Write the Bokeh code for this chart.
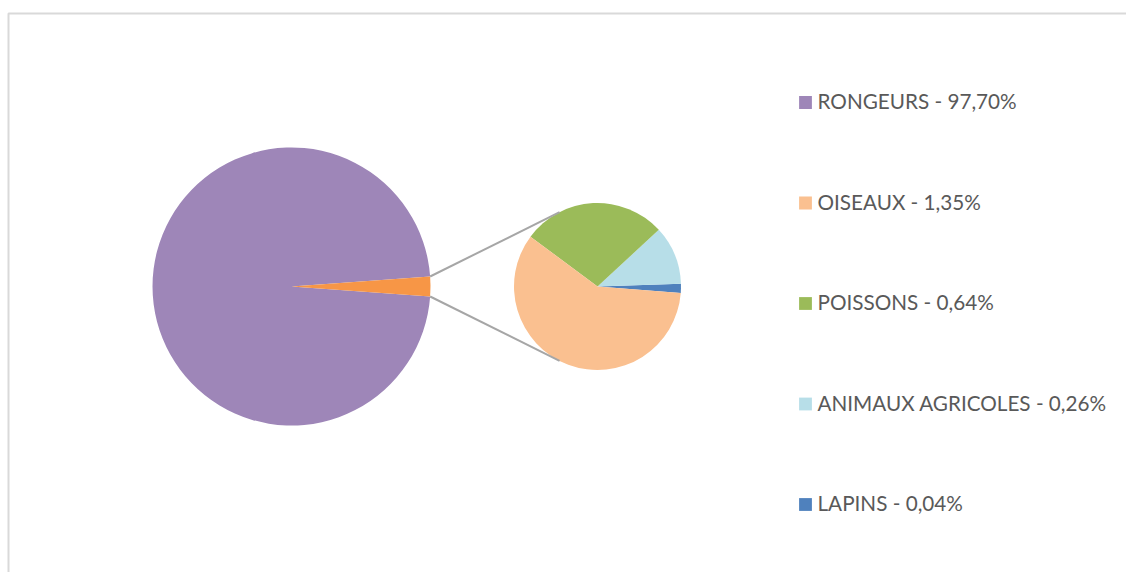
import math
from bokeh.plotting import figure
from bokeh.models import Range1d, ColumnDataSource
from bokeh.core.properties import value
from bokeh.embed import file_html
from bokeh.resources import INLINE

# ---- data ----
main_label = "RONGEURS"
main_value = 97.70
sub_labels = ["LAPINS", "ANIMAUX AGRICOLES", "POISSONS", "OISEAUX"]
sub_values = [0.04, 0.26, 0.64, 1.35]
legend_labels = ["RONGEURS - 97,70%", "OISEAUX - 1,35%", "POISSONS - 0,64%",
                 "ANIMAUX AGRICOLES - 0,26%", "LAPINS - 0,04%"]

# ---- style ----
W, H = 1126, 572
c_main = "#9E86B8"
c_other = "#F79646"
sub_colors = {"LAPINS": "#4F81BD", "ANIMAUX AGRICOLES": "#B7DEE8",
              "POISSONS": "#9BBB59", "OISEAUX": "#FAC090"}
legend_colors = [c_main, sub_colors["OISEAUX"], sub_colors["POISSONS"],
                 sub_colors["ANIMAUX AGRICOLES"], sub_colors["LAPINS"]]


def Y(v):
    return H - v


p = figure(width=W, height=H, x_range=Range1d(0, W), y_range=Range1d(0, H),
           output_backend="svg", toolbar_location=None, min_border=0)
p.axis.visible = False
p.grid.visible = False
p.outline_line_color = None
p.background_fill_color = "white"

# frame
p.line([8, 8, W + 5], [Y(H + 5), Y(13), Y(13)], line_color="#D9D9D9", line_width=2)

# main pie
cx1, cy1, r1 = 291, 286, 139
other = sum(sub_values)
total = main_value + other
half = other / total * math.pi
p.wedge(x=cx1, y=Y(cy1), radius=r1, start_angle=half, end_angle=2 * math.pi - half,
        fill_color=c_main, line_color=None)
p.wedge(x=cx1, y=Y(cy1), radius=r1, start_angle=-half, end_angle=half,
        fill_color=c_other, line_color=None)

# secondary pie
cx2, cy2, r2 = 597, 286, 83.5
start = math.radians(-4.4)
a = start
starts, ends, cols = [], [], []
for lab, v in zip(sub_labels, sub_values):
    b = a + v / other * 2 * math.pi
    starts.append(a)
    ends.append(b)
    cols.append(sub_colors[lab])
    a = b
src = ColumnDataSource(dict(s=starts, e=ends, c=cols))
p.wedge(x=cx2, y=Y(cy2), radius=r2, start_angle="s", end_angle="e",
        fill_color="c", line_color=None, source=src)

# connector lines
ta = math.radians(117)
for sgn in (1, -1):
    x0 = cx1 + r1 * math.cos(half)
    y0 = Y(cy1) + sgn * r1 * math.sin(half)
    x1 = cx2 + r2 * math.cos(ta)
    y1 = Y(cy2) + sgn * r2 * math.sin(ta)
    p.line([x0, x1], [y0, y1], line_color="#A6A6A6", line_width=2)

# legend
mid0, step = 100.5, 100.5
mids = [mid0 + i * step for i in range(len(legend_labels))]
p.rect(x=[805] * 5, y=[Y(m + 1.5) for m in mids], width=12.8, height=12.8,
       fill_color=legend_colors, line_color=None)
p.text(x=[817] * 5, y=[Y(m) for m in mids], text=legend_labels,
       text_font=value("Lato"), text_font_size=value("20.7px"),
       text_color="#595959", text_baseline="middle", text_align="left")

open("out.html", "w").write(file_html(p, INLINE))
